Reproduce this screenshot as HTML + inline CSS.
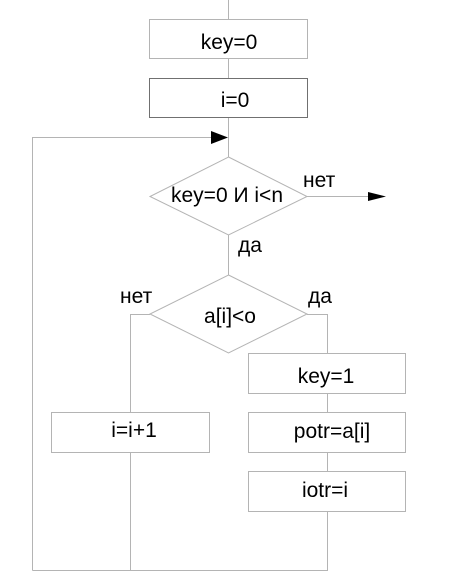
<!DOCTYPE html>
<html><head><meta charset="utf-8"><style>
html,body{margin:0;padding:0;background:#fff;}
svg{display:block;}
text{font-family:"Liberation Sans",sans-serif;font-size:21px;fill:#000;}
</style></head><body>
<svg width="454" height="588" viewBox="0 0 454 588" xmlns="http://www.w3.org/2000/svg">
<g fill="none" stroke="#b4b4b4" stroke-width="1">
<line x1="228.5" y1="0" x2="228.5" y2="19"/>
<line x1="228.5" y1="58" x2="228.5" y2="78"/>
<line x1="228.5" y1="117" x2="228.5" y2="157"/>
<line x1="228.5" y1="235" x2="228.5" y2="275"/>
<polyline points="32.5,570.5 32.5,137.5 212,137.5"/>
<line x1="307" y1="196.5" x2="370" y2="196.5"/>
<polygon points="228.5,157 307,196.5 228.5,235 150,196.5"/>
<polygon points="228.5,275 307,314 228.5,353 150,314"/>
<polyline points="150,314.5 130.5,314.5 130.5,412"/>
<line x1="130.5" y1="452" x2="130.5" y2="570.5"/>
<polyline points="307,314.5 327.5,314.5 327.5,570.5 32.5,570.5"/>
<rect x="149.5" y="19.5" width="158" height="39" fill="#fff"/>
<rect x="149.5" y="78.5" width="158" height="39" fill="#fff" stroke="#707070"/>
<rect x="51.5" y="412.5" width="158" height="40" fill="#fff"/>
<rect x="248.5" y="353.5" width="157" height="40" fill="#fff"/>
<rect x="248.5" y="412.5" width="157" height="40" fill="#fff"/>
<rect x="248.5" y="471.5" width="157" height="40" fill="#fff"/>
</g>
<polygon points="211,131 228,137.5 211,144" fill="#000"/>
<polygon points="368,192 386,196.5 368,201" fill="#000"/>
<text x="229" y="49" text-anchor="middle">key=0</text>
<text x="235" y="107" text-anchor="middle">i=0</text>
<text x="227" y="202" text-anchor="middle">key=0 И i&lt;n</text>
<text x="303" y="187">нет</text>
<text x="238" y="252">да</text>
<text x="120" y="303">нет</text>
<text x="308" y="303">да</text>
<text x="230" y="323" text-anchor="middle">a[i]&lt;o</text>
<text x="326" y="383" text-anchor="middle">key=1</text>
<text x="134" y="437" text-anchor="middle">i=i+1</text>
<text x="332" y="438" text-anchor="middle">potr=a[i]</text>
<text x="325" y="497" text-anchor="middle">iotr=i</text>
</svg>
</body></html>
